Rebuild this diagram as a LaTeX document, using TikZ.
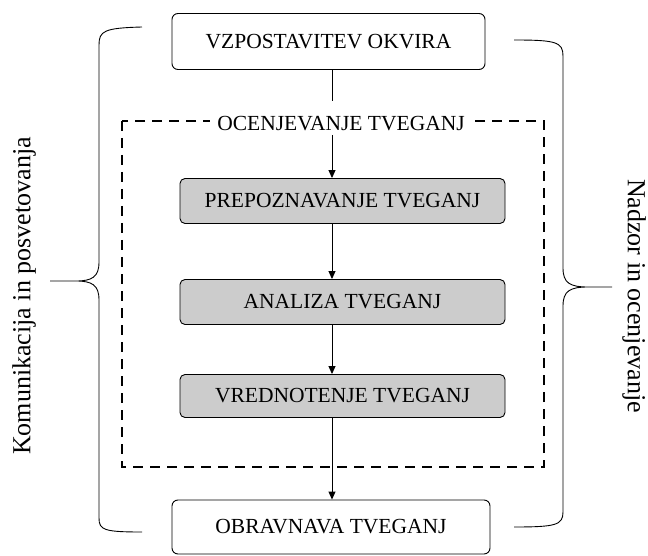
\documentclass[tikz,border=0pt]{standalone}
\usepackage{fontspec}
\setmainfont{Liberation Serif}
\usetikzlibrary{arrows.meta}

\tikzset{
  outerbox/.style={draw, line width=0.9pt, rounded corners=6pt, minimum width=313, minimum height=56},
  stepbox/.style={draw, line width=0.9pt, fill=black!20, rounded corners=5pt, minimum width=325, minimum height=45},
  flow/.style={line width=0.9pt, -{Triangle[length=8pt, width=7pt]}},
  brace/.style={line width=0.9pt},
}

\begin{document}
\begin{tikzpicture}[x=1pt, y=-1pt, font=\fontsize{21.5}{24}\selectfont]
			\useasboundingbox (0,0) rectangle (648,556);
			
			% Outer boxes
			\node[outerbox] (okvir) at (328.5,41.5) {VZPOSTAVITEV OKVIRA};
			\node[outerbox, minimum width=318, minimum height=54] (obravnava) at (331,527) {OBRAVNAVA TVEGANJ};
			
			% Dashed frame with its label
			\draw[dash pattern=on 10pt off 7pt, line width=1.8pt] (122,121) rectangle (544,467);
			\node[fill=white, inner xsep=7pt] (ocena) at (341,124) {OCENJEVANJE TVEGANJ};
			\coordinate (gap) at (332,101);
			
			% Steps
			\node[stepbox] (prepoznavanje) at (342.5,201) {PREPOZNAVANJE TVEGANJ};
			\node[stepbox] (analiza) at (342.5,302) {ANALIZA TVEGANJ};
			\node[stepbox, minimum height=43] (vrednotenje) at (342.5,396) {VREDNOTENJE TVEGANJ};
			
			% Connectors
			\draw[line width=0.9pt] (okvir.south -| gap) -- (gap);
			\draw[flow] (ocena.south -| gap) -- (prepoznavanje.north -| gap);
			\draw[flow] (prepoznavanje.south -| gap) -- (analiza.north -| gap);
			\draw[flow] (analiza.south -| gap) -- (vrednotenje.north -| gap);
			\draw[flow] (vrednotenje.south -| gap) -- (obravnava.north -| gap);
			
			% Braces
			\draw[brace] (142,27) .. controls (104,28) and (99,31) .. (99,45) -- (99,262)
			  .. controls (99,277) and (92,281) .. (76,281) -- (50,281) -- (76,281)
			  .. controls (92,281) and (99,285) .. (99,300) -- (99,518)
			  .. controls (99,530) and (104,532) .. (142,532);
			\draw[brace] (514,40) .. controls (556,40) and (563,42) .. (563,56) -- (563,268)
			  .. controls (563,283) and (570,287) .. (588,287) -- (612,287) -- (588,287)
			  .. controls (570,287) and (563,291) .. (563,306) -- (563,512)
			  .. controls (563,525) and (556,527) .. (514,527);
			
			% Side labels
			\node[rotate=90, font=\fontsize{26}{30}\selectfont] (komunikacija) at (24,296) {Komunikacija in posvetovanja};
			\node[rotate=-90, font=\fontsize{26}{30}\selectfont] (nadzor) at (634,296) {Nadzor in ocenjevanje};
		\end{tikzpicture}
\end{document}
